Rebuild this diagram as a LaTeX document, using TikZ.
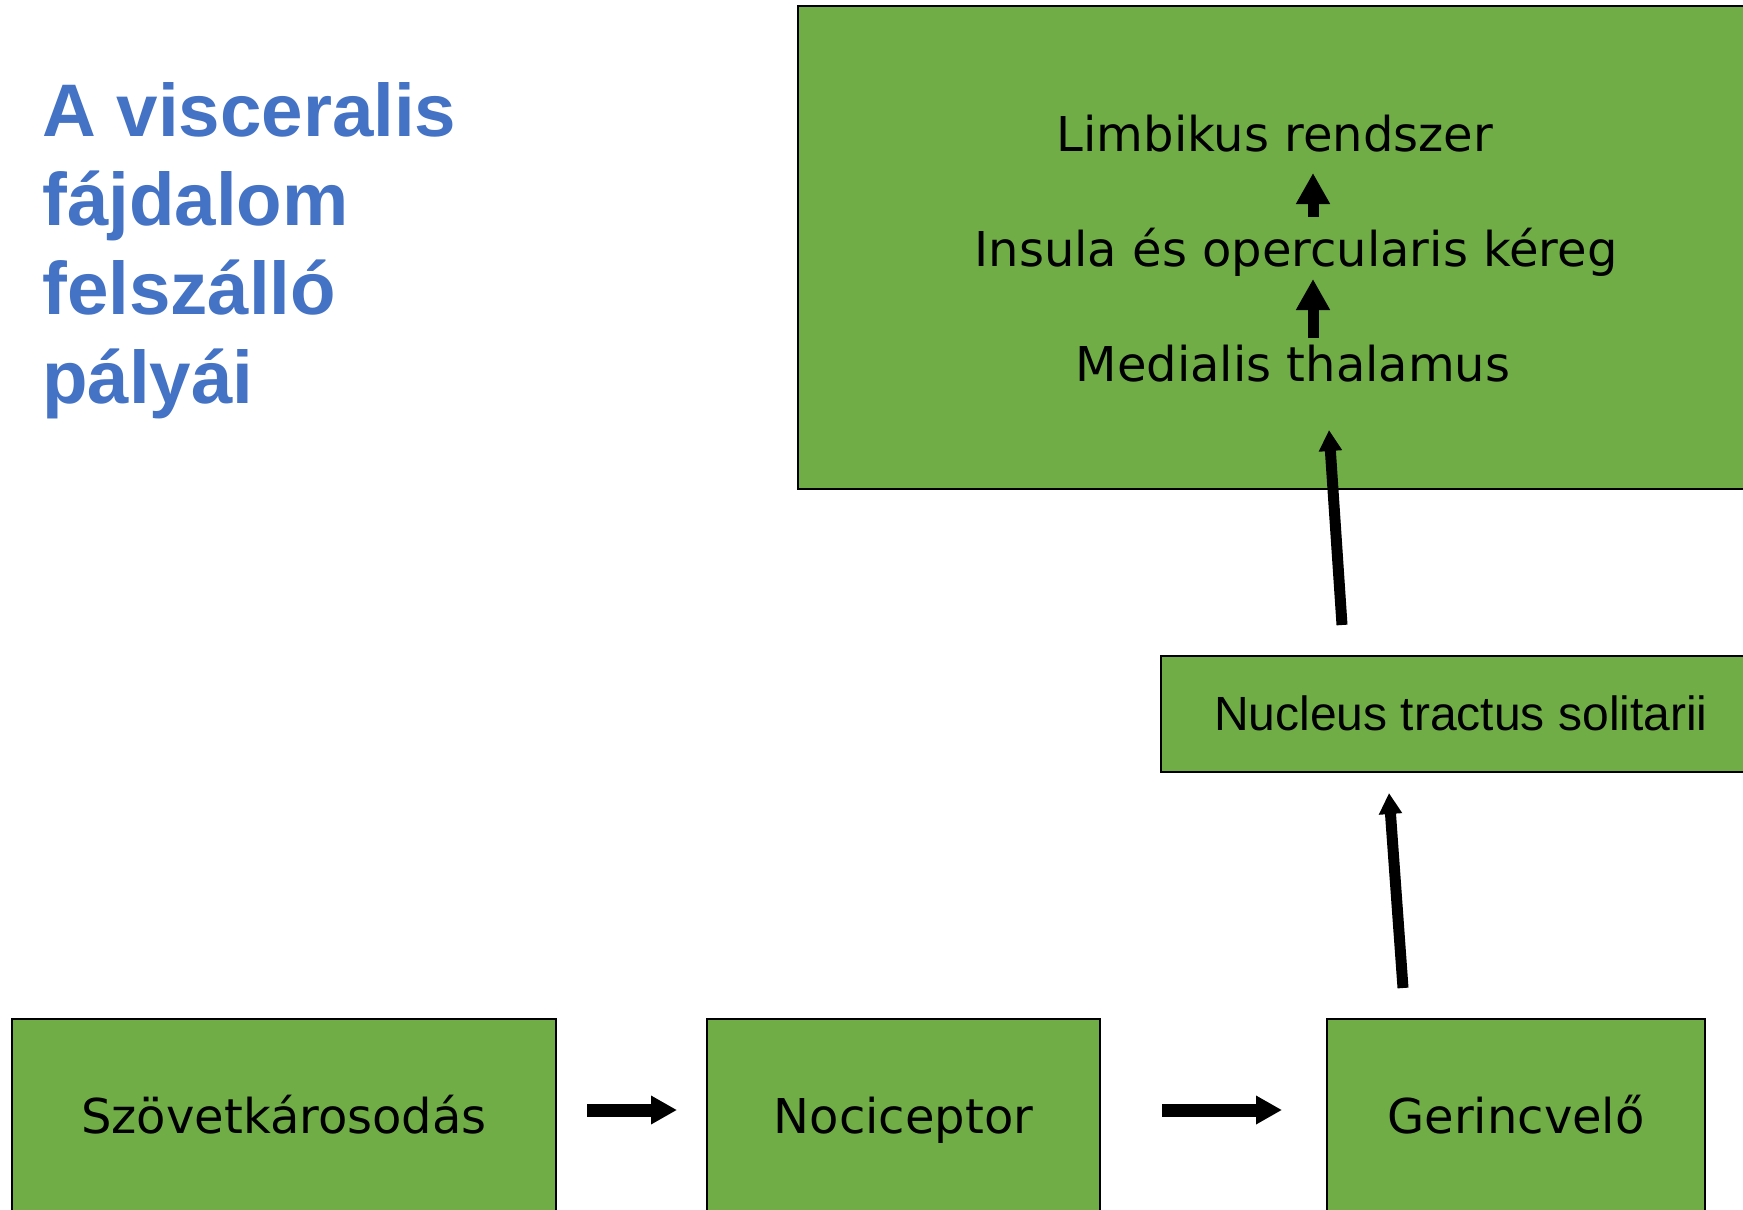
\documentclass[tikz,border=0pt]{standalone}
\usepackage{fontspec}
\setmainfont{DejaVu Sans}
\newfontfamily\arialfont{Liberation Sans}
\usetikzlibrary{arrows.meta}
\definecolor{boxgreen}{HTML}{70AD47}
\definecolor{titleblue}{HTML}{4472C4}
\begin{document}
\begin{tikzpicture}[x=1pt,y=-1pt,
  box/.style={draw=black, line width=2.8pt, fill=boxgreen, inner sep=0pt, outer sep=0pt,
    text height=34pt, text depth=0pt, font=\fontsize{48}{58}\selectfont},
  lbl/.style={anchor=base, inner sep=0pt, font=\fontsize{48}{58}\selectfont},
  harrow/.style={line width=13pt, -{Triangle[length=26pt,width=27pt]}},
  varrow/.style={line width=11pt, -{Triangle[length=31pt,width=32pt]}},
  larrow/.style={line width=11pt, -{Triangle[length=21pt,width=22pt]}}]
\useasboundingbox (0,0) rectangle (1743,1210);
\fill[white] (0,0) rectangle (1743,1210);
% title
\node[anchor=north west, inner sep=0pt, align=left, text=titleblue,
  font=\arialfont\bfseries\fontsize{74.5}{89}\selectfont] (title) at (42,82)
  {A visceralis\\fájdalom\\felszálló\\pályái};
% cortex box
\node[box, minimum width=992pt, minimum height=483pt] (cortex) at (1294,247.5) {};
\node[lbl] (limb) at (1275,151) {Limbikus rendszer};
\node[lbl] (insula) at (1296,266) {Insula és opercularis kéreg};
\node[lbl] (thal) at (1293,381) {Medialis thalamus};
% NTS
\node[box, font=\arialfont\fontsize{48}{58}\selectfont, text height=33.5pt,
  minimum width=600pt, minimum height=116pt] (nts) at (1461,714) {Nucleus tractus solitarii};
% bottom row
\node[box, minimum width=544pt, minimum height=194pt] (szov) at (284,1116) {Szövetkárosodás};
\node[box, minimum width=393pt, minimum height=194pt] (noc) at (903.5,1116) {Nociceptor};
\node[box, minimum width=378pt, minimum height=194pt] (ger) at (1516,1116) {Gerincvelő};
% connectors
\coordinate (hy) at (0,1110);
\draw[harrow, shorten <=31pt, shorten >=30pt] (szov.east |- hy) -- (noc.west |- hy);
\draw[harrow, shorten <=62pt, shorten >=45pt] (noc.east |- hy) -- (ger.west |- hy);
\coordinate (a1s) at (1313,217);
\coordinate (a1e) at (1313,173);
\coordinate (a2s) at (1313,338);
\coordinate (a2e) at (1313,279);
\draw[varrow] (a1s) -- (a1e);
\draw[varrow] (a2s) -- (a2e);
\coordinate (t1s) at (1342,625);
\coordinate (t1e) at (1329,430);
\coordinate (t2s) at (1403,988);
\coordinate (t2e) at (1389,793);
\draw[larrow] (t1s) -- (t1e);
\draw[larrow] (t2s) -- (t2e);
\end{tikzpicture}
\end{document}
